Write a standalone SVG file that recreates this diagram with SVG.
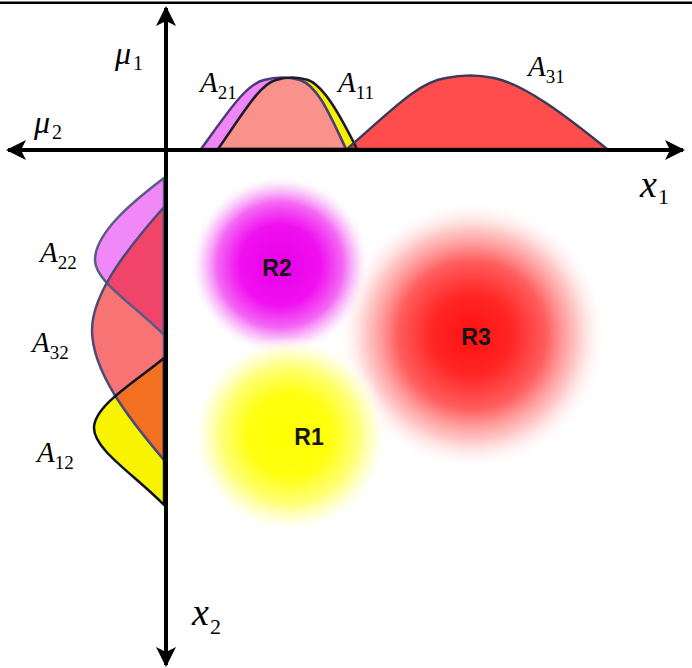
<svg xmlns="http://www.w3.org/2000/svg" width="692" height="668" viewBox="0 0 692 668">
<style>
.m{font-family:"Liberation Serif","Times New Roman",serif;font-style:italic;fill:#000}
.s{font-style:normal}
.r{font-family:"Liberation Sans",Arial,sans-serif;font-weight:bold;font-size:23px;fill:#151515;text-anchor:middle}
.ol{fill:none;stroke-width:2.5;stroke-linejoin:round}
.ax{stroke:#000;stroke-width:4}
</style>
<defs>
<radialGradient id="gR2">
<stop offset="0" stop-color="#e800e8"/>
<stop offset="0.45" stop-color="#f010f0"/>
<stop offset="0.7" stop-color="#f468f4"/>
<stop offset="0.87" stop-color="#f9ccf9" stop-opacity="0.75"/>
<stop offset="1" stop-color="#ffffff" stop-opacity="0"/>
</radialGradient>
<radialGradient id="gR3">
<stop offset="0" stop-color="#ff1010"/>
<stop offset="0.3" stop-color="#ff2626"/>
<stop offset="0.55" stop-color="#ff5e5e"/>
<stop offset="0.78" stop-color="#ffb8b8" stop-opacity="0.8"/>
<stop offset="1" stop-color="#ffffff" stop-opacity="0"/>
</radialGradient>
<radialGradient id="gR1">
<stop offset="0" stop-color="#ffff00"/>
<stop offset="0.42" stop-color="#ffff10"/>
<stop offset="0.7" stop-color="#ffff78"/>
<stop offset="0.87" stop-color="#ffffcc" stop-opacity="0.75"/>
<stop offset="1" stop-color="#ffffff" stop-opacity="0"/>
</radialGradient>
<path id="pA21" d="M201,149 C228,112 246,84 264,80 Q282,75 300,80 C318,86 330,115 346,149 Z"/>
<path id="pA11" d="M218,149 C244,112 260,84 276,80 Q292,75 308,80 C324,86 340,115 357,149 Z"/>
<path id="pA31" d="M347,149 C392,110 418,82 446,78 Q470,73 494,78 C524,84 565,115 607,149 Z"/>
<path id="pA22" d="M164,178 C135,200 95,232 95,260 C95,282 135,305 164,335 Z"/>
<path id="pA32" d="M164,207 C135,240 92,290 92,330 C92,372 130,420 164,460 Z"/>
<path id="pA12" d="M164,358 C138,380 94,405 94,428 C94,450 135,475 164,505 Z"/>
<clipPath id="cA11"><use href="#pA11"/></clipPath>
<clipPath id="cA31"><use href="#pA31"/></clipPath>
<clipPath id="cA32"><use href="#pA32"/></clipPath>
<marker id="ah" viewBox="0 0 10 10" refX="9" refY="5" markerWidth="5.5" markerHeight="5" orient="auto" markerUnits="strokeWidth">
<path d="M0,0 L10,5 L0,10 L2.5,5 Z" fill="#000"/>
</marker>
</defs>
<rect width="692" height="668" fill="#fff"/>
<rect x="0" y="1.5" width="692" height="2.5" fill="#000"/>

<g id="R3"><circle cx="472" cy="335" r="135" fill="url(#gR3)"/><text class="r" x="476" y="345">R3</text></g>
<g id="R2"><circle cx="280" cy="265" r="90" fill="url(#gR2)"/><text class="r" x="277" y="276">R2</text></g>
<g id="R1"><circle cx="290" cy="435" r="98" fill="url(#gR1)"/><text class="r" x="309" y="445">R1</text></g>

<g id="top-mf">
<use href="#pA21" fill="#f085f5"/>
<use href="#pA11" fill="#f4f000"/>
<use href="#pA21" fill="#f8928a" clip-path="url(#cA11)"/>
<use href="#pA31" fill="#ff4d4d"/>
<use href="#pA11" fill="#e83a30" clip-path="url(#cA31)"/>
<use href="#pA21" class="ol" stroke="#4a3a7a"/>
<use href="#pA11" class="ol" stroke="#1a1a2a"/>
<use href="#pA31" class="ol" stroke="#3a3a5a"/>
</g>

<g id="left-mf">
<use href="#pA22" fill="#f088f8"/>
<use href="#pA32" fill="#f87474"/>
<use href="#pA22" fill="#f04468" clip-path="url(#cA32)"/>
<use href="#pA12" fill="#f8f400"/>
<use href="#pA12" fill="#f27020" clip-path="url(#cA32)"/>
<use href="#pA22" class="ol" stroke="#5a5a82" stroke-width="2"/>
<use href="#pA32" class="ol" stroke="#4a4a7a"/>
<use href="#pA12" class="ol" stroke="#101028" stroke-width="3"/>
</g>

<g id="axes">
<line class="ax" x1="166" y1="664" x2="166" y2="8" marker-end="url(#ah)"/>
<line class="ax" x1="166" y1="12" x2="166" y2="665" marker-end="url(#ah)"/>
<line class="ax" x1="12" y1="150" x2="683" y2="150" marker-end="url(#ah)"/>
<line class="ax" x1="170" y1="150" x2="8" y2="150" marker-end="url(#ah)"/>
</g>

<g id="labels">
<text class="m" x="115" y="64" font-size="32">μ<tspan class="s" font-size="20" dx="2" dy="6">1</tspan></text>
<text class="m" x="34" y="133" font-size="32">μ<tspan class="s" font-size="20" dx="2" dy="6">2</tspan></text>
<text class="m" x="640" y="197" font-size="38">x<tspan class="s" font-size="22" dx="1" dy="7">1</tspan></text>
<text class="m" x="192" y="625" font-size="38">x<tspan class="s" font-size="22" dx="1" dy="9">2</tspan></text>
<text class="m" x="200" y="92" font-size="29">A<tspan class="s" font-size="19" dy="7">21</tspan></text>
<text class="m" x="338" y="92" font-size="29">A<tspan class="s" font-size="19" dy="7">11</tspan></text>
<text class="m" x="528" y="76" font-size="29">A<tspan class="s" font-size="19" dy="7">31</tspan></text>
<text class="m" x="40" y="262" font-size="29">A<tspan class="s" font-size="19" dy="7">22</tspan></text>
<text class="m" x="32" y="352" font-size="29">A<tspan class="s" font-size="19" dy="7">32</tspan></text>
<text class="m" x="37" y="462" font-size="29">A<tspan class="s" font-size="19" dy="7">12</tspan></text>
</g>
</svg>
